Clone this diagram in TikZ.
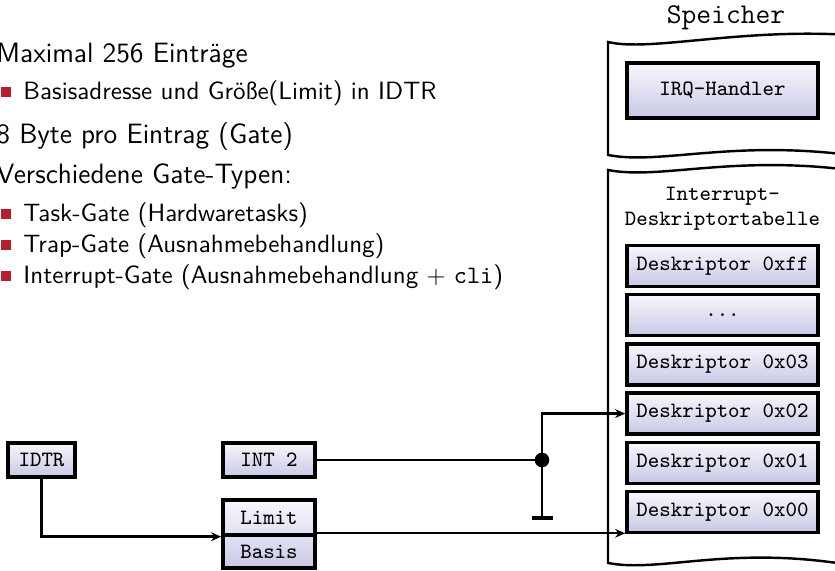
\documentclass[tikz,border=0pt]{standalone}
\usepackage{fontspec}
\usetikzlibrary{arrows.meta}
\definecolor{boxtop}{RGB}{247,247,252}
\definecolor{boxmid}{RGB}{225,225,243}
\definecolor{boxbot}{RGB}{200,200,230}
\definecolor{itemred}{RGB}{181,30,45}
\begin{document}
\begin{tikzpicture}[x=0.4115pt, y=-0.4115pt, >={Stealth[length=4.2pt, width=3.6pt, inset=1.4pt]},
        entry/.style={draw, line width=1.4pt, top color=boxtop, bottom color=boxbot,
            font=\ttfamily\fontsize{9}{11}\selectfont, inner sep=0pt},
        wire/.style={line width=1pt},
        mem/.style={draw, line width=1pt, fill=white},
        bullet/.style={fill=itemred, inner sep=0pt, minimum size=4.1pt},
        lvlone/.style={anchor=base west, inner sep=0pt, font=\sffamily\fontsize{11.5}{13}\selectfont},
        lvltwo/.style={anchor=base west, inner sep=0pt, font=\sffamily\fontsize{10.3}{12}\selectfont}]
        \useasboundingbox (0, 0) rectangle (835, 570);
        % Aufzaehlung
        \node [lvlone] (maxent) at (-4, 62) {Maximal 256 Einträge};
        \node [bullet] (bul1) at (6, 92) {};
        \node [lvltwo] (basisadr) at (23, 99) {Basisadresse und Größe(Limit) in IDTR};
        \node [lvlone] (bytes) at (-4, 143) {8 Byte pro Eintrag (Gate)};
        \node [lvlone] (gatetypes) at (-4, 183) {Verschiedene Gate-Typen:};
        \node [bullet] (bul2) at (6, 214) {};
        \node [lvltwo] (taskgate) at (23, 221) {Task-Gate (Hardwaretasks)};
        \node [bullet] (bul3) at (6, 245) {};
        \node [lvltwo] (trapgate) at (23, 252) {Trap-Gate (Ausnahmebehandlung)};
        \node [bullet] (bul4) at (6, 276) {};
        \node [lvltwo] (intgate) at (23, 283) {Interrupt-Gate (Ausnahmebehandlung $+$ \texttt{cli})};
        % Speicher
        \node [anchor=base, font=\ttfamily\fontsize{11.8}{13}\selectfont] (speicher) at (726, 23) {Speicher};
        \draw [mem] (608, 155) -- (608, 42) .. controls (650, 52) and (740, 28) .. (850, 35)
            -- (850, 155) .. controls (730, 140) and (660, 165) .. (608, 155) -- cycle;
        \draw [mem] (608, 563) -- (608, 170) .. controls (660, 180) and (730, 155) .. (850, 170)
            -- (850, 565) .. controls (730, 545) and (660, 573) .. (608, 563) -- cycle;
        \node [entry, minimum width=78.6pt, minimum height=22.6pt] (irq) at (722.5, 90.5) {IRQ-Handler};
        \node [align=center, font=\ttfamily\fontsize{9}{10.3}\selectfont] (idt) at (722.5, 209) {Interrupt-\\Deskriptortabelle};
        \node [entry, minimum width=78.6pt, minimum height=16.9pt] (dff) at (722.5, 266) {Deskriptor 0xff};
        \node [entry, minimum width=78.6pt, minimum height=16.9pt] (ddots) at (722.5, 315.2) {...};
        \node [entry, minimum width=78.6pt, minimum height=16.9pt] (d3) at (722.5, 364.4) {Deskriptor 0x03};
        \node [entry, minimum width=78.6pt, minimum height=16.9pt] (d2) at (722.5, 413.6) {Deskriptor 0x02};
        \node [entry, minimum width=78.6pt, minimum height=16.9pt] (d1) at (722.5, 462.8) {Deskriptor 0x01};
        \node [entry, minimum width=78.6pt, minimum height=16.9pt] (d0) at (722.5, 512) {Deskriptor 0x00};
        % Register und Interrupt
        \node [entry, minimum width=27.6pt, minimum height=14pt] (idtr) at (41.5, 460) {IDTR};
        \node [entry, minimum width=37.9pt, minimum height=14pt] (int) at (269, 460) {INT 2};
        \node [entry, minimum width=37.9pt, minimum height=14.4pt, bottom color=boxmid] (limit) at (269, 517.5) {Limit};
        \node [entry, minimum width=37.9pt, minimum height=13.6pt, top color=boxmid] (basis) at (269, 551.5) {Basis};
        \coordinate (jn) at (542, 460);
        \coordinate (gnd) at (542, 518);
        \draw [wire, ->] (idtr.south) |- (limit.south west);
        \draw [wire] (int.east) -- (jn);
        \draw [wire, ->] (jn) |- (d2.west);
        \draw [wire] (jn) -- (gnd);
        \draw [line width=1.4pt] (gnd) ++(-10.5, 0) -- ++(21, 0);
        \fill (jn) circle (3pt);
        \draw [wire, ->] (basis.north east) -- (basis.north east -| d0.west);
    \end{tikzpicture}
\end{document}
